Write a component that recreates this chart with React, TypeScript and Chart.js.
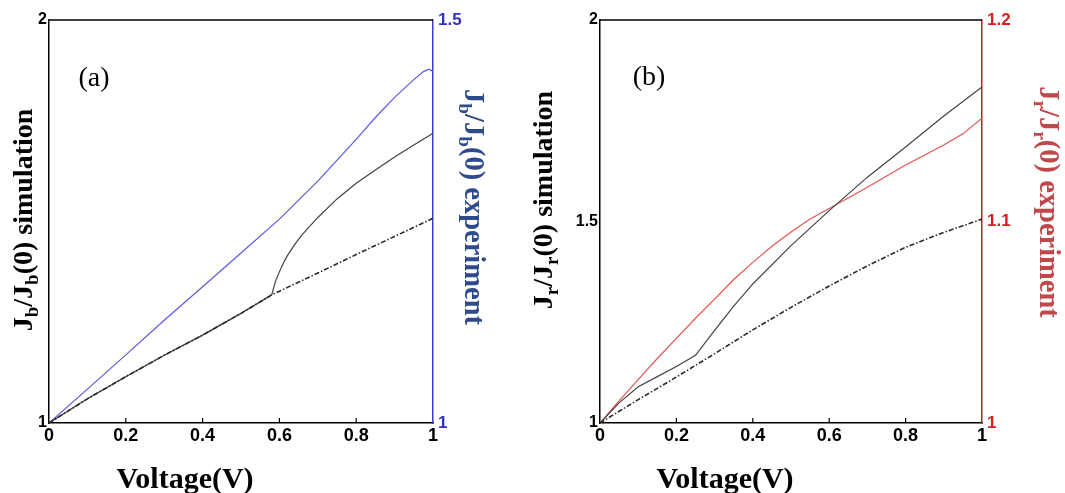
import React, { useEffect, useRef } from "react";
import { Chart, registerables } from "chart.js";

Chart.register(...registerables);

// ---------- Data: panel (a) ----------
const voltageDashA = [0, 0.1, 0.2, 0.3, 0.4, 0.5, 0.58, 0.6, 0.7, 0.8, 0.9, 1.0];
const simDashA = [1, 1.06, 1.115, 1.168, 1.218, 1.272, 1.318, 1.327, 1.372, 1.418, 1.463, 1.508];

const voltageSolidA = [0, 0.1, 0.2, 0.3, 0.4, 0.5, 0.58, 0.585, 0.59, 0.6, 0.61, 0.62, 0.64, 0.66, 0.7, 0.75, 0.8, 0.85, 0.9, 0.95, 1.0];
const simSolidA = [1, 1.06, 1.115, 1.168, 1.218, 1.272, 1.318, 1.335, 1.352, 1.375, 1.396, 1.414, 1.443, 1.468, 1.51, 1.556, 1.595, 1.628, 1.66, 1.69, 1.719];

const voltageExpA = [0, 0.1, 0.2, 0.3, 0.4, 0.5, 0.6, 0.7, 0.8, 0.85, 0.9, 0.95, 0.975, 0.99, 1.0];
const expA = [1, 1.042, 1.0845, 1.1275, 1.169, 1.211, 1.253, 1.3, 1.352, 1.379, 1.404, 1.426, 1.436, 1.439, 1.436];

// ---------- Data: panel (b) ----------
const voltageDashB = [0, 0.1, 0.2, 0.3, 0.4, 0.5, 0.6, 0.7, 0.8, 0.9, 1.0];
const simDashB = [1, 1.058, 1.114, 1.172, 1.231, 1.287, 1.34, 1.39, 1.436, 1.473, 1.506];

const voltageSolidB = [0, 0.05, 0.1, 0.15, 0.2, 0.25, 0.3, 0.35, 0.4, 0.5, 0.6, 0.7, 0.8, 0.9, 1.0];
const simSolidB = [1, 1.05, 1.09, 1.115, 1.14, 1.168, 1.23, 1.29, 1.345, 1.44, 1.527, 1.61, 1.685, 1.762, 1.834];

const voltageExpB = [0, 0.05, 0.1, 0.15, 0.2, 0.25, 0.3, 0.35, 0.4, 0.45, 0.5, 0.55, 0.6, 0.7, 0.8, 0.9, 0.95, 1.0];
const expB = [1, 1.011, 1.0215, 1.032, 1.042, 1.052, 1.0615, 1.0712, 1.0797, 1.0877, 1.0948, 1.1012, 1.1065, 1.117, 1.128, 1.138, 1.1435, 1.1512];

// ---------- Tick labels ----------
const xTicks = [0, 0.2, 0.4, 0.6, 0.8, 1];
const yLeftTicksA = [1, 2];
const yRightTicksA = [1, 1.5];
const yLeftTicksB = [1, 1.5, 2];
const yRightTicksB = [1, 1.1, 1.2];

const SERIF = "'Liberation Serif', 'Times New Roman', serif";
const SANS = "'Liberation Sans', Arial, sans-serif";

type Seg = { t: string; sub?: boolean };

function drawRich(ctx: CanvasRenderingContext2D, segs: Seg[], cx: number, cy: number, angle: number, size: number, color: string) {
  ctx.save();
  ctx.translate(cx, cy);
  ctx.rotate(angle);
  ctx.fillStyle = color;
  ctx.textBaseline = "alphabetic";
  ctx.textAlign = "left";
  const subSize = size * 0.68;
  let total = 0;
  const widths = segs.map((s) => {
    ctx.font = `bold ${s.sub ? subSize : size}px ${SERIF}`;
    const w = ctx.measureText(s.t).width;
    total += w;
    return w;
  });
  let x = -total / 2;
  const base = size * 0.33;
  segs.forEach((s, i) => {
    ctx.font = `bold ${s.sub ? subSize : size}px ${SERIF}`;
    ctx.fillText(s.t, x, s.sub ? base + size * 0.2 : base);
    x += widths[i];
  });
  ctx.restore();
}

type PanelCfg = {
  id: string;
  letter: string;
  letterPos: [number, number];
  sub: string;
  leftTitlePos: [number, number];
  rightTitlePos: [number, number];
  xTitlePos: [number, number];
  rightTitleColor: string;
  rightAxisColor: string;
  rightTickColor: string;
  expColor: string;
  leftTicks: number[];
  rightTicks: number[];
  rightMax: number;
  leftWidth: number;
  rightWidth: number;
  dashX: number[];
  dashY: number[];
  solidX: number[];
  solidY: number[];
  expX: number[];
  expY: number[];
};

function pts(xs: number[], ys: number[]) {
  return xs.map((x, i) => ({ x, y: ys[i] }));
}

function makeDecor(cfg: PanelCfg) {
  return {
    id: "decor_" + cfg.id,
    afterDraw(chart: any) {
      const ctx: CanvasRenderingContext2D = chart.ctx;
      const a = chart.chartArea;
      const xs = chart.scales.x;
      ctx.save();
      ctx.strokeStyle = "#000";
      ctx.lineWidth = 1.5;
      ctx.beginPath();
      ctx.moveTo(a.left, a.top);
      ctx.lineTo(a.right, a.top);
      ctx.stroke();
      ctx.lineWidth = 1.2;
      xTicks.slice(1, -1).forEach((v) => {
        const px = xs.getPixelForValue(v);
        ctx.beginPath();
        ctx.moveTo(px, a.bottom);
        ctx.lineTo(px, a.bottom - 5);
        ctx.stroke();
      });
      ctx.restore();
      ctx.save();
      ctx.font = `28px ${SERIF}`;
      ctx.fillStyle = "#000";
      ctx.textAlign = "center";
      ctx.textBaseline = "middle";
      ctx.fillText(cfg.letter, cfg.letterPos[0], cfg.letterPos[1]);
      ctx.restore();
      const s = cfg.sub;
      drawRich(ctx, [{ t: "J" }, { t: s, sub: true }, { t: "/J" }, { t: s, sub: true }, { t: "(0) simulation" }],
        cfg.leftTitlePos[0], cfg.leftTitlePos[1], -Math.PI / 2, 28, "#000");
      drawRich(ctx, [{ t: "J" }, { t: s, sub: true }, { t: "/J" }, { t: s, sub: true }, { t: "(0) experiment" }],
        cfg.rightTitlePos[0], cfg.rightTitlePos[1], Math.PI / 2, 28.5, cfg.rightTitleColor);
      drawRich(ctx, [{ t: "Voltage(V)" }], cfg.xTitlePos[0], cfg.xTitlePos[1], 0, 30, "#000");
    },
  };
}

function buildConfig(cfg: PanelCfg): any {
  return {
    type: "line",
    data: {
      datasets: [
        {
          data: pts(cfg.dashX, cfg.dashY),
          yAxisID: "y",
          borderColor: "#2a2a2a",
          borderWidth: 1.6,
          borderDash: [5, 2, 1.5, 2],
          pointRadius: 0,
          fill: false,
        },
        {
          data: pts(cfg.solidX, cfg.solidY),
          yAxisID: "y",
          borderColor: "#444",
          borderWidth: 1.2,
          pointRadius: 0,
          fill: false,
        },
        {
          data: pts(cfg.expX, cfg.expY),
          yAxisID: "y1",
          borderColor: cfg.expColor,
          borderWidth: 1.2,
          pointRadius: 0,
          fill: false,
        },
      ],
    },
    options: {
      animation: false,
      responsive: false,
      maintainAspectRatio: false,
      layout: { padding: { top: 20, left: 0, right: 0, bottom: 0 } },
      plugins: { legend: { display: false }, tooltip: { enabled: false }, title: { display: false } },
      elements: { line: { tension: 0 } },
      scales: {
        x: {
          type: "linear",
          min: 0,
          max: 1,
          afterBuildTicks: (sc: any) => {
            sc.ticks = xTicks.map((v) => ({ value: v }));
          },
          ticks: {
            font: { family: SANS, size: 18, weight: "bold" },
            color: "#000",
            padding: 2,
            maxRotation: 0,
            autoSkip: false,
            callback: (v: number) => String(v),
          },
          grid: { display: false, drawTicks: false },
          border: { display: true, color: "#000", width: 1.5 },
          afterFit: (sc: any) => {
            sc.height = 70;
          },
        },
        y: {
          type: "linear",
          position: "left",
          min: 1,
          max: 2,
          afterBuildTicks: (sc: any) => {
            sc.ticks = cfg.leftTicks.map((v) => ({ value: v }));
          },
          ticks: {
            font: { family: SANS, size: 16, weight: "bold" },
            color: "#000",
            padding: 2,
            callback: (v: number) => String(v),
          },
          grid: { display: false, drawTicks: false },
          border: { display: true, color: "#000", width: 1.5 },
          afterFit: (sc: any) => {
            sc.width = cfg.leftWidth;
          },
        },
        y1: {
          type: "linear",
          position: "right",
          min: 1,
          max: cfg.rightMax,
          afterBuildTicks: (sc: any) => {
            sc.ticks = cfg.rightTicks.map((v) => ({ value: v }));
          },
          ticks: {
            font: { family: SANS, size: 17, weight: "bold" },
            color: cfg.rightTickColor,
            padding: 5,
            callback: (v: number) => String(v),
          },
          grid: { display: false, drawTicks: false },
          border: { display: true, color: cfg.rightAxisColor, width: 1.5 },
          afterFit: (sc: any) => {
            sc.width = cfg.rightWidth;
          },
        },
      },
    },
    plugins: [makeDecor(cfg)],
  };
}

const panelA: PanelCfg = {
  id: "a",
  letter: "(a)",
  letterPos: [94, 79],
  sub: "b",
  leftTitlePos: [23, 220],
  rightTitlePos: [474, 207],
  xTitlePos: [185, 478],
  rightTitleColor: "#2d4a8c",
  rightAxisColor: "#3c3ccf",
  rightTickColor: "#3030c8",
  expColor: "#5a5ae0",
  leftTicks: yLeftTicksA,
  rightTicks: yRightTicksA,
  rightMax: 1.5,
  leftWidth: 49,
  rightWidth: 99,
  dashX: voltageDashA,
  dashY: simDashA,
  solidX: voltageSolidA,
  solidY: simSolidA,
  expX: voltageExpA,
  expY: expA,
};

const panelB: PanelCfg = {
  id: "b",
  letter: "(b)",
  letterPos: [117, 78],
  sub: "r",
  leftTitlePos: [11, 200],
  rightTitlePos: [517, 202],
  xTitlePos: [193, 478],
  rightTitleColor: "#c0474a",
  rightAxisColor: "#c81e1e",
  rightTickColor: "#d42020",
  expColor: "#e05555",
  leftTicks: yLeftTicksB,
  rightTicks: yRightTicksB,
  rightMax: 1.2,
  leftWidth: 68,
  rightWidth: 83,
  dashX: voltageDashB,
  dashY: simDashB,
  solidX: voltageSolidB,
  solidY: simSolidB,
  expX: voltageExpB,
  expY: expB,
};

function Panel({ cfg, left, width }: { cfg: PanelCfg; left: number; width: number }) {
  const ref = useRef<HTMLCanvasElement | null>(null);
  useEffect(() => {
    if (!ref.current) return;
    const chart = new Chart(ref.current, buildConfig(cfg));
    return () => chart.destroy();
  }, [cfg]);
  return (
    <canvas
      ref={ref}
      width={width}
      height={493}
      style={{ position: "absolute", left, top: 0, width, height: 493 }}
    />
  );
}

export default function App() {
  return (
    <div style={{ position: "absolute", left: 0, top: 0, width: 1065, height: 493, background: "#fff" }}>
      <Panel cfg={panelA} left={0} width={532} />
      <Panel cfg={panelB} left={532} width={533} />
    </div>
  );
}
